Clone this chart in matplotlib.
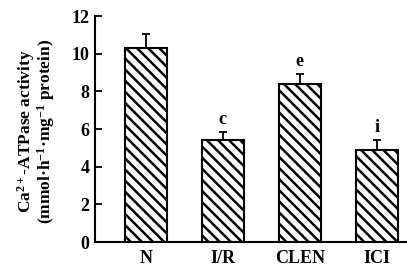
import matplotlib
matplotlib.use("Agg")
import matplotlib.pyplot as plt
import numpy as np

categories = ["N", "I/R", "CLEN", "ICI"]
values = [10.3, 5.4, 8.4, 4.9]
errors = [0.75, 0.45, 0.53, 0.53]
letters = ["", "c", "e", "i"]
yticks = [0, 2, 4, 6, 8, 10, 12]

plt.rcParams['font.family'] = ['Liberation Serif', 'DejaVu Serif']
plt.rcParams['font.weight'] = 'bold'
plt.rcParams['mathtext.fontset'] = 'custom'
plt.rcParams['mathtext.rm'] = 'Liberation Serif:bold'
plt.rcParams['mathtext.it'] = 'Liberation Serif:bold'
plt.rcParams['mathtext.bf'] = 'Liberation Serif:bold'
plt.rcParams['mathtext.default'] = 'rm'
plt.rcParams['hatch.linewidth'] = 1.8

fig = plt.figure(figsize=(4.07, 2.69), dpi=100)
ax = fig.add_axes([0.233, 0.100, 0.765, 0.8405])

x = np.arange(len(categories))
ax.bar(x, values, width=0.54, color='white', edgecolor='black', linewidth=1.5,
       hatch='\\\\\\', zorder=2)
ax.errorbar(x, values, yerr=[np.zeros(len(values)), errors], fmt='none',
            ecolor='black', elinewidth=1.3, capsize=3, capthick=1.3, zorder=3)
for xi, v, e, t in zip(x, values, errors, letters):
    if t:
        ax.text(xi, v + e + 0.2, t, ha='center', va='bottom', fontsize=13,
                fontweight='bold')

ax.set_xlim(-0.66, 3.38)
ax.set_ylim(0, 12)
ax.set_yticks(yticks)
ax.set_yticklabels([str(t) for t in yticks], fontsize=13, fontweight='bold')
ax.set_xticks(x)
ax.set_xticklabels(categories, fontsize=13, fontweight='bold')
ax.tick_params(axis='y', direction='in', length=5, width=1.3, pad=4)
ax.tick_params(axis='x', length=0, pad=6)
for s in ['top', 'right']:
    ax.spines[s].set_visible(False)
for s in ['left', 'bottom']:
    ax.spines[s].set_linewidth(1.5)

ax.set_ylabel("Ca$^{2+}$-ATPase activity\n(mmol·h$^{-1}$·mg$^{-1}$ protein)",
              fontsize=12.5, fontweight='bold', linespacing=0.9)
ax.yaxis.set_label_coords(-0.12, 0.49)

fig.savefig("out.png", dpi=100)
